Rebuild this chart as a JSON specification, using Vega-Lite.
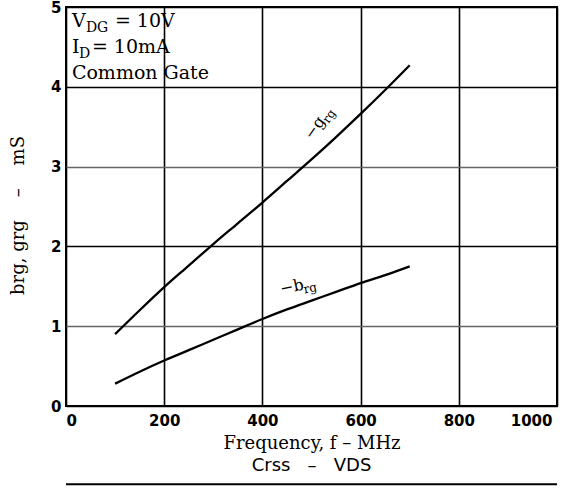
{
  "$schema": "https://vega.github.io/schema/vega-lite/v6.json",
  "width": 491,
  "height": 399,
  "autosize": "none",
  "padding": {"left": 66, "top": 7, "right": 12, "bottom": 87},
  "background": "white",
  "config": {
    "view": {"stroke": "black", "strokeWidth": 2},
    "axis": {"domain": false, "ticks": false}
  },
  "title": {
    "text": "Crss\u00a0\u00a0\u00a0–\u00a0\u00a0\u00a0VDS",
    "orient": "bottom",
    "anchor": "middle",
    "font": "DejaVu Sans",
    "fontSize": 18,
    "fontWeight": "normal",
    "color": "black",
    "offset": -28
  },
  "datasets": {
    "curves": [
      {"f": 100, "v": 0.90, "s": "g"}, {"f": 150, "v": 1.20, "s": "g"}, {"f": 200, "v": 1.49, "s": "g"},
      {"f": 250, "v": 1.76, "s": "g"}, {"f": 300, "v": 2.03, "s": "g"}, {"f": 350, "v": 2.29, "s": "g"},
      {"f": 400, "v": 2.55, "s": "g"}, {"f": 450, "v": 2.82, "s": "g"}, {"f": 500, "v": 3.09, "s": "g"},
      {"f": 550, "v": 3.37, "s": "g"}, {"f": 600, "v": 3.66, "s": "g"}, {"f": 650, "v": 3.96, "s": "g"},
      {"f": 700, "v": 4.27, "s": "g"},
      {"f": 100, "v": 0.28, "s": "b"}, {"f": 150, "v": 0.43, "s": "b"}, {"f": 200, "v": 0.57, "s": "b"},
      {"f": 250, "v": 0.70, "s": "b"}, {"f": 300, "v": 0.83, "s": "b"}, {"f": 350, "v": 0.96, "s": "b"},
      {"f": 400, "v": 1.09, "s": "b"}, {"f": 450, "v": 1.21, "s": "b"}, {"f": 500, "v": 1.32, "s": "b"},
      {"f": 550, "v": 1.43, "s": "b"}, {"f": 600, "v": 1.54, "s": "b"}, {"f": 650, "v": 1.64, "s": "b"},
      {"f": 700, "v": 1.75, "s": "b"}
    ]
  },
  "layer": [
    {
      "data": {"name": "curves"},
      "mark": {"type": "line", "color": "black", "strokeWidth": 2.3, "interpolate": "monotone"},
      "encoding": {
        "x": {
          "field": "f", "type": "quantitative",
          "scale": {"domain": [0, 1000], "nice": false},
          "axis": {
            "values": [0, 200, 400, 600, 800, 1000],
            "format": "d",
            "grid": true, "gridColor": "black", "gridWidth": 1.6,
            "labelFont": "Liberation Sans Narrow, DejaVu Sans", "labelFontWeight": "bold", "labelFontSize": 15,
            "labelColor": "black", "labelPadding": 7,
            "labelOffset": {"condition": {"test": "datum.value == 1000", "value": -5}, "value": 0},
            "title": "Frequency, f\u00a0–\u00a0MHz",
            "titleFont": "DejaVu Serif", "titleFontSize": 18, "titleFontWeight": "normal",
            "titleColor": "black", "titleY": 42, "titleBaseline": "alphabetic"
          }
        },
        "y": {
          "field": "v", "type": "quantitative",
          "scale": {"domain": [0, 5], "nice": false},
          "axis": {
            "values": [0, 1, 2, 3, 4, 5],
            "format": "d",
            "grid": true,
            "gridColor": {"condition": {"test": "datum.value == 1 || datum.value == 3", "value": "#666666"}, "value": "black"},
            "gridWidth": 1.5,
            "labelFont": "Liberation Sans Narrow, DejaVu Sans", "labelFontWeight": "bold", "labelFontSize": 15,
            "labelColor": "black", "labelPadding": 5,
            "title": "brg,\u00a0grg\u00a0\u00a0\u00a0\u00a0–\u00a0\u00a0\u00a0\u00a0mS",
            "titleFont": "DejaVu Serif", "titleFontSize": 18, "titleFontWeight": "normal",
            "titleColor": "black", "titleX": -43, "titleY": 208, "titleBaseline": "alphabetic", "titleAngle": -90
          }
        },
        "detail": {"field": "s"}
      }
    },
    {
      "data": {"values": [{"f0": 0, "f1": 1000, "v": -0.98}]},
      "mark": {"type": "rule", "color": "black", "strokeWidth": 2},
      "encoding": {"x": {"field": "f0", "type": "quantitative"}, "x2": {"field": "f1"}, "y": {"field": "v", "type": "quantitative"}}
    },
    {
      "data": {"values": [{"f": 12, "v": 4.75, "t": "V"}, {"f": 12, "v": 4.42, "t": "I"}, {"f": 12, "v": 4.10, "t": "Common Gate"}]},
      "mark": {"type": "text", "font": "DejaVu Serif", "fontSize": 19, "align": "left", "baseline": "alphabetic", "color": "black"},
      "encoding": {"x": {"field": "f", "type": "quantitative"}, "y": {"field": "v", "type": "quantitative"}, "text": {"field": "t"}}
    },
    {
      "data": {"values": [{"f": 12, "v": 4.75, "t": "DG"}]},
      "mark": {"type": "text", "font": "DejaVu Serif", "fontSize": 14, "align": "left", "baseline": "alphabetic", "color": "black", "dx": 14, "dy": 5},
      "encoding": {"x": {"field": "f", "type": "quantitative"}, "y": {"field": "v", "type": "quantitative"}, "text": {"field": "t"}}
    },
    {
      "data": {"values": [{"f": 12, "v": 4.42, "t": "D"}]},
      "mark": {"type": "text", "font": "DejaVu Serif", "fontSize": 14, "align": "left", "baseline": "alphabetic", "color": "black", "dx": 7, "dy": 5},
      "encoding": {"x": {"field": "f", "type": "quantitative"}, "y": {"field": "v", "type": "quantitative"}, "text": {"field": "t"}}
    },
    {
      "data": {"values": [{"f": 12, "v": 4.75, "t": "= 10V"}]},
      "mark": {"type": "text", "font": "DejaVu Serif", "fontSize": 19, "align": "left", "baseline": "alphabetic", "color": "black", "dx": 43},
      "encoding": {"x": {"field": "f", "type": "quantitative"}, "y": {"field": "v", "type": "quantitative"}, "text": {"field": "t"}}
    },
    {
      "data": {"values": [{"f": 12, "v": 4.42, "t": "= 10mA"}]},
      "mark": {"type": "text", "font": "DejaVu Serif", "fontSize": 19, "align": "left", "baseline": "alphabetic", "color": "black", "dx": 20},
      "encoding": {"x": {"field": "f", "type": "quantitative"}, "y": {"field": "v", "type": "quantitative"}, "text": {"field": "t"}}
    },
    {
      "data": {"values": [{"f": 515, "v": 3.45, "t": "−g"}]},
      "mark": {"type": "text", "font": "DejaVu Serif", "fontSize": 16, "align": "center", "baseline": "alphabetic", "color": "black", "angle": -55},
      "encoding": {"x": {"field": "f", "type": "quantitative"}, "y": {"field": "v", "type": "quantitative"}, "text": {"field": "t"}}
    },
    {
      "data": {"values": [{"f": 515, "v": 3.45, "t": "rg"}]},
      "mark": {"type": "text", "font": "DejaVu Serif", "fontSize": 12, "align": "left", "baseline": "alphabetic", "color": "black", "angle": -55, "dx": 11, "dy": 4},
      "encoding": {"x": {"field": "f", "type": "quantitative"}, "y": {"field": "v", "type": "quantitative"}, "text": {"field": "t"}}
    },
    {
      "data": {"values": [{"f": 462, "v": 1.43, "t": "−b"}]},
      "mark": {"type": "text", "font": "DejaVu Serif", "fontSize": 16, "align": "center", "baseline": "alphabetic", "color": "black", "angle": -12},
      "encoding": {"x": {"field": "f", "type": "quantitative"}, "y": {"field": "v", "type": "quantitative"}, "text": {"field": "t"}}
    },
    {
      "data": {"values": [{"f": 462, "v": 1.43, "t": "rg"}]},
      "mark": {"type": "text", "font": "DejaVu Serif", "fontSize": 12, "align": "left", "baseline": "alphabetic", "color": "black", "angle": -12, "dx": 11, "dy": 4},
      "encoding": {"x": {"field": "f", "type": "quantitative"}, "y": {"field": "v", "type": "quantitative"}, "text": {"field": "t"}}
    }
  ]
}
